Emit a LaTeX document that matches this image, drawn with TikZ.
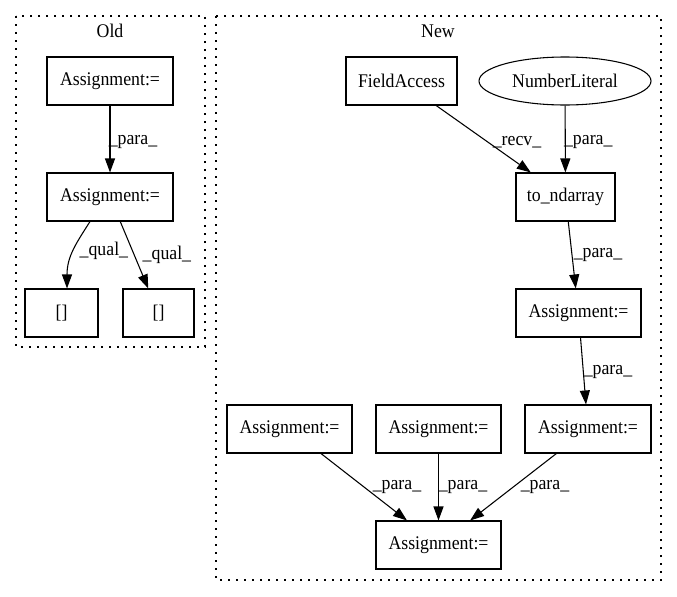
\documentclass[tikz,border=0pt]{standalone}
\usepackage{fontspec}
\setmainfont{Liberation Serif}[FakeStretch=0.92]
\usetikzlibrary{arrows.meta,shapes.geometric,calc}
\begin{document}
\begin{tikzpicture}[x=0.75pt,y=-0.75pt,
  every node/.style={font=\fontsize{14.5}{17}\selectfont},
  box/.style={draw,line width=0.8pt,rectangle,minimum height=36pt,inner sep=0pt},
  oval/.style={draw,line width=0.8pt,ellipse,minimum height=36pt,inner sep=0pt},
  lab/.style={inner sep=0pt},
  edge/.style={draw,line width=0.8pt,-{Triangle[length=10.5pt,width=7.5pt]}},
  cluster/.style={draw,line width=0.8pt,dash pattern=on 1.2pt off 4.8pt}]
\useasboundingbox (0,0) rectangle (677,596);
% clusters
\draw[cluster] (16,16) rectangle (205,347);
\node (oldlab) at (110,31) {Old};
\draw[cluster] (216,16) rectangle (661,580);
\node (newlab) at (438,31) {New};
% old nodes
\node[box,minimum width=94.5pt] (A1) at (110,81) {Assignment:=};
\node[box,minimum width=94.5pt] (A2) at (110,197) {Assignment:=};
\node[box,minimum width=54.75pt] (B1) at (61.5,313) {[]};
\node[box,minimum width=53.25pt] (B2) at (158.5,313) {[]};
% new nodes
\node[box,minimum width=83.25pt] (FA) at (401.5,81) {FieldAccess};
\node[oval,minimum width=129pt] (NL) at (565,81) {NumberLiteral};
\node[box,minimum width=74.25pt] (TN) at (565.5,197) {to\_ndarray};
\node[box,minimum width=93.75pt] (A3) at (578.5,313) {Assignment:=};
\node[box,minimum width=94.5pt] (A4) at (588,429) {Assignment:=};
\node[box,minimum width=93.75pt] (A5) at (289.5,429) {Assignment:=};
\node[box,minimum width=93.75pt] (A6) at (438.5,429) {Assignment:=};
\node[box,minimum width=93.75pt] (A7) at (438.5,545) {Assignment:=};
% old edges
\draw[edge] (A1) -- node[lab,pos=0.544,xshift=17.25pt] (l1) {\_para\_} (A2);
\draw[edge] ($(A2.south)+(-20,0)$) .. controls ($(A2.south)+(-34,22)$) and ($(B1.north)+(5.5,-32)$) .. node[lab,pos=0.5,xshift=23pt] (l2) {\_qual\_} ($(B1.north)+(5.5,0)$);
\draw[edge] (A2) -- node[lab,pos=0.5,xshift=24.5pt] (l3) {\_qual\_} (B2);
% new edges
\draw[edge] (FA) -- node[lab,pos=0.544,xshift=22pt] (l4) {\_recv\_} (TN);
\draw[edge] (NL) -- node[lab,pos=0.544,xshift=17.25pt] (l5) {\_para\_} (TN);
\draw[edge] (TN) -- node[lab,pos=0.5,xshift=19.5pt] (l6) {\_para\_} (A3);
\draw[edge] (A3) -- node[lab,pos=0.515,xshift=18.5pt] (l7) {\_para\_} (A4);
\draw[edge] (A5) -- node[lab,pos=0.5,xshift=24.75pt] (l8) {\_para\_} (A7);
\draw[edge] (A6) -- node[lab,pos=0.5,xshift=18.4pt] (l9) {\_para\_} (A7);
\draw[edge] (A4) -- node[lab,pos=0.5,xshift=23.8pt] (l10) {\_para\_} (A7);
\end{tikzpicture}
\end{document}
